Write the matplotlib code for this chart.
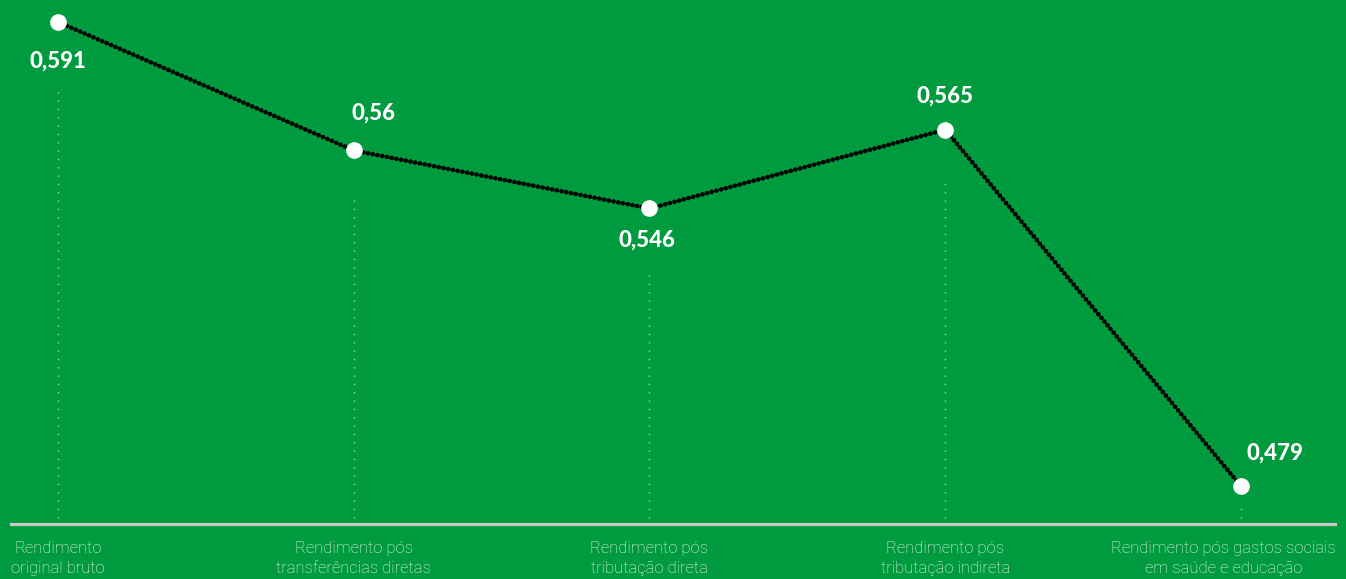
import matplotlib.pyplot as plt

categories = ['Rendimento\noriginal bruto',
              'Rendimento pós\ntransferências diretas',
              'Rendimento pós\ntributação direta',
              'Rendimento pós\ntributação indireta',
              'Rendimento pós gastos sociais\nem saúde e educação']
gini = [0.591, 0.56, 0.546, 0.565, 0.479]
value_labels = ['0,591', '0,56', '0,546', '0,565', '0,479']

green = '#009b3e'

fig = plt.figure(figsize=(13.46, 5.79), dpi=100)
fig.patch.set_facecolor(green)
ax = fig.add_axes([0, 0, 1, 1])
ax.set_facecolor(green)

x = list(range(len(gini)))
ax.set_xlim(-0.196, 4.355)
ax.set_ylim(0.4566, 0.5963)
base = 0.4698

# dotted guide lines from label down to the axis
guide_top = [0.5745, 0.5490, 0.5300, 0.5527, 0.4752]
for xi, top in zip(x, guide_top):
    ax.plot([xi, xi], [base + 0.0015, top], color='#cfe9d4', lw=1,
            linestyle=(0, (1, 5)), alpha=0.8)

ax.plot(x, gini, color='black', lw=3.3, linestyle=(0, (0.05, 1.0)),
        dash_capstyle='round', zorder=3)
ax.plot(x, gini, 'o', color='white', markersize=11, zorder=4)

ax.axhline(base, xmin=11 / 1346, xmax=1335 / 1346, color='#c8c8c8', lw=2.3)

# value labels: (dx, dy) offsets in data units
offsets = [(0.0, -0.0095), (0.068, 0.0090), (-0.01, -0.0077), (0.0, 0.0080), (0.115, 0.0080)]
for xi, v, lab, (dx, dy) in zip(x, gini, value_labels, offsets):
    ax.text(xi + dx, v + dy, lab, color='white', fontsize=16, fontweight='black',
            family='Lato', ha='center', va='center')

label_dx = [0, 0, 0, 0, -0.06]
for xi, cat, dx in zip(x, categories, label_dx):
    ax.text(xi + dx, base - 0.0040, cat, color='#f0f8f2', fontsize=12,
            family='Roboto', fontweight='light', ha='center', va='top',
            linespacing=1.4)

ax.axis('off')
fig.savefig('out.png', dpi=100, facecolor=green)
